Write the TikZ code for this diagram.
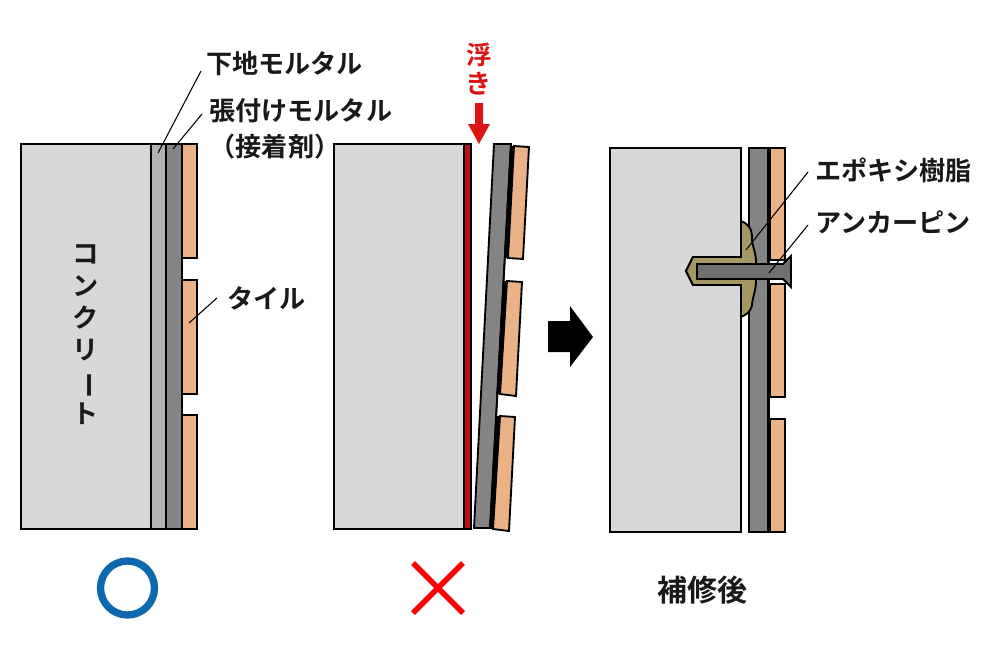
\documentclass[tikz,border=0pt]{standalone}
\usepackage{fontspec}
\setmainfont{Noto Sans CJK JP}[BoldFont={Noto Sans CJK JP Bold}]
\definecolor{conc}{RGB}{216,216,216}
\definecolor{basem}{RGB}{178,178,178}
\definecolor{adhes}{RGB}{132,132,132}
\definecolor{tilec}{RGB}{235,178,135}
\definecolor{epox}{RGB}{165,152,98}
\definecolor{redl}{RGB}{220,20,20}
\definecolor{bluec}{RGB}{12,105,175}
\tikzset{
 x=0.75pt,y=-0.75pt,
 part/.style={draw=black,line width=1.4pt,line join=miter},
 leader/.style={draw=black,line width=0.8pt},
 lab/.style={font=\fontsize{19.6}{24}\selectfont\bfseries,inner sep=0pt,anchor=west,text=black!90},
}
\begin{document}
\begin{tikzpicture}
\useasboundingbox (0,0) rectangle (990,664);
% Panel 1
\path[part,fill=conc] (21,144) rectangle (151,529);
\path[part,fill=basem] (151,144) rectangle (166,529);
\path[part,fill=adhes] (166,144) rectangle (182,529);
\path[part,fill=tilec] (182,144) rectangle (197,258);
\path[part,fill=tilec] (182,280) rectangle (197,394);
\path[part,fill=tilec] (182,415) rectangle (197,529);
\draw[line width=2.2pt] (182,144) -- (182,529);
% Panel 2
\path[part,fill=conc] (334,144) rectangle (464,529);
\path[part,fill=redl!85!black] (464,144) rectangle (471,529);
\path[part,fill=adhes] (494,144) -- (511,144) -- (490,528) -- (474,528) -- cycle;
\draw[line width=1.2pt] (511,145) -- (490,528);
\path[part,fill=tilec] (514,146) -- (529,147) -- (523,259) -- (508,258) -- cycle;
\path[part,fill=tilec] (507,281) -- (522,282) -- (516,396) -- (500,394) -- cycle;
\path[part,fill=tilec] (500,416) -- (515,417) -- (509,531) -- (493,529) -- cycle;
\draw[line width=3pt] (512,146) -- (506,258) (505,281) -- (498.5,394) (498,416) -- (491.5,529);
% Panel 3
\path[part,fill=conc] (610,148) -- (741,148) -- (741,257) -- (693,257) -- (686,271) -- (693,285) -- (741,285) -- (741,532) -- (610,532) -- cycle;
\path[part,fill=adhes] (749,148) rectangle (768,532);
\path[part,fill=tilec] (770,148) rectangle (785,260);
\path[part,fill=tilec] (770,284) rectangle (785,397);
\path[part,fill=tilec] (770,419) rectangle (785,532);
\draw[line width=2.2pt] (769,148) -- (769,532);
\path[part,fill=epox] (741,221) .. controls (748,224) and (752,228) .. (752,238) .. controls (752,246) and (756,252) .. (756,262) -- (756,280) .. controls (756,292) and (752,298) .. (752,306) .. controls (750,312) and (746,315) .. (741,317) -- (741,285) -- (693,285) -- (686,271) -- (693,257) -- (741,257) -- cycle;
\path[part,fill=adhes!85!black] (697,264) -- (783,264) -- (791,256) -- (791,287) -- (783,279) -- (697,279) -- cycle;
% Block arrow
\fill[black] (548,321) -- (570,321) -- (570,306) -- (593,337) -- (570,367) -- (570,352) -- (548,352) -- cycle;
% Red arrow
\fill[redl] (475,103) -- (483,103) -- (483,124) -- (490,124) -- (479,144) -- (468,124) -- (475,124) -- cycle;
% Marks
\draw[bluec,line width=5.5pt] (127.5,588) circle (27);
\draw[red,line width=4.2pt] (413,563) -- (463,613) (463,563) -- (413,613);
% Labels
\node[lab] (t1) at (206,64) {下地モルタル};
\node[lab] (t2) at (209,111) {張付けモルタル};
\node[lab,anchor=center] (t3) at (275,147) {（接着剤）};
\node[lab] (t4) at (227,298) {タイル};
\node[lab] (t5) at (815,170) {エポキシ樹脂};
\node[lab] (t6) at (815,222) {アンカーピン};
\node[lab,anchor=center,font=\fontsize{22.5}{26}\selectfont\bfseries] (t7) at (702,590) {補修後};
\node[lab,anchor=center,align=center,text=redl] (t8) at (479,69) {\fontsize{19}{25}\selectfont 浮\\[-2pt]き};
\node[lab,anchor=center,align=center] (t9) at (86,335) {\fontsize{20}{22.4}\selectfont コ\\ン\\ク\\リ\\\rotatebox[origin=c]{-90}{\reflectbox{ー}}\\ト};
% Leaders
\coordinate (a1) at (158,153); \coordinate (a2) at (173,149);
\coordinate (a3) at (189,323); \coordinate (a4) at (746,250); \coordinate (a5) at (769,273);
\draw[leader] (201,71) -- (a1);
\draw[leader] (202,114) -- (a2);
\draw[leader] (217,298) -- (a3);
\draw[leader] (808,172) -- (a4);
\draw[leader] (808,225) -- (a5);
\end{tikzpicture}
\end{document}
